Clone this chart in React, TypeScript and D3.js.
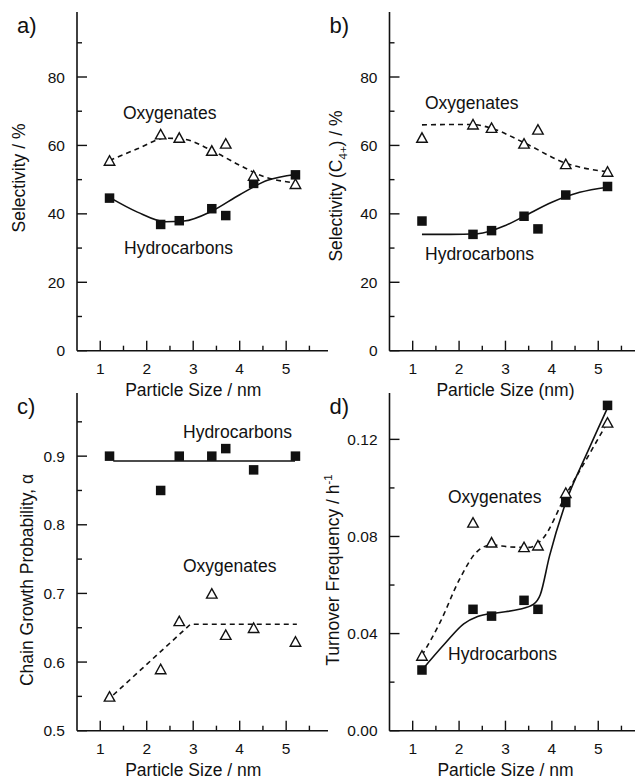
import React from "react";
import * as d3 from "d3";

// Particle sizes (nm) shared by all four panels
const particleSizes = [1.2, 2.3, 2.7, 3.4, 3.7, 4.3, 5.2];

// a) Selectivity / %
const selOxygenates = [55.6, 63.3, 62.3, 58.5, 60.6, 51.2, 48.8];
const selHydrocarbons = [44.6, 36.9, 38.0, 41.5, 39.5, 48.9, 51.4];
const selOxyFitX = [1.2, 1.8, 2.4, 2.8, 3.4, 4.0, 4.5, 5.2];
const selOxyFitY = [55.6, 59.0, 62.1, 61.8, 58.5, 54.2, 51.0, 49.0];
const selHcFitX = [1.2, 1.8, 2.4, 2.8, 3.4, 4.0, 4.6, 5.2];
const selHcFitY = [44.8, 40.5, 37.7, 37.9, 40.8, 45.6, 49.8, 51.5];

// b) Selectivity (C4+) / %
const c4Oxygenates = [62.3, 66.2, 65.2, 60.6, 64.7, 54.6, 52.4];
const c4Hydrocarbons = [37.9, 34.0, 35.1, 39.3, 35.6, 45.5, 48.0];
const c4OxyFitX = [1.2, 1.8, 2.3, 2.7, 3.4, 4.3, 5.2];
const c4OxyFitY = [66.0, 66.1, 66.1, 65.0, 60.8, 54.8, 52.3];
const c4HcFitX = [1.2, 1.8, 2.4, 3.0, 3.4, 4.0, 4.6, 5.2];
const c4HcFitY = [34.0, 34.0, 34.2, 36.6, 39.3, 43.4, 46.3, 47.8];

// c) Chain growth probability, alpha
const alphaHydrocarbons = [0.9, 0.85, 0.9, 0.9, 0.911, 0.88, 0.9];
const alphaOxygenates = [0.55, 0.59, 0.66, 0.7, 0.64, 0.65, 0.63];
const alphaHcFitX = [1.28, 5.19];
const alphaHcFitY = [0.893, 0.893];
const alphaOxyFitX = [1.28, 2.94, 5.23];
const alphaOxyFitY = [0.552, 0.655, 0.655];

// d) Turnover frequency / h^-1
const tofHydrocarbons = [0.025, 0.05, 0.0472, 0.0537, 0.05, 0.094, 0.134];
const tofOxygenates = [0.031, 0.0858, 0.0776, 0.0757, 0.0764, 0.098, 0.127];
const tofHcFitX = [1.2, 1.7, 2.1, 2.4, 2.8, 3.3, 3.6, 3.75, 3.95, 4.3, 4.75, 5.2];
const tofHcFitY = [0.025, 0.036, 0.044, 0.047, 0.0485, 0.05, 0.052, 0.056, 0.072, 0.094, 0.114, 0.133];
const tofOxyFitX = [1.2, 1.6, 2.0, 2.4, 2.7, 3.1, 3.5, 3.8, 4.3, 4.75, 5.2];
const tofOxyFitY = [0.031, 0.045, 0.062, 0.074, 0.0765, 0.0757, 0.0755, 0.079, 0.097, 0.112, 0.127];

// Axis ticks
const xMajorTicks = [1, 2, 3, 4, 5];
const xMinorTicks = [1.5, 2.5, 3.5, 4.5, 5.5];
const selMajorTicks = [0, 20, 40, 60, 80];
const selMinorTicks = [10, 30, 50, 70, 90];
const alphaMajorTicks = [0.5, 0.6, 0.7, 0.8, 0.9];
const alphaMinorTicks = [0.55, 0.65, 0.75, 0.85, 0.95];
const tofMajorTicks = [0, 0.04, 0.08, 0.12];
const tofMinorTicks = [0.02, 0.06, 0.1];

const FONT = "'Liberation Sans', Arial, Helvetica, sans-serif";
const INK = "#111";

type Pt = [number, number];

function zip(xs: number[], ys: number[]): Pt[] {
  return xs.map((x, i) => [x, ys[i]]);
}

interface PanelProps {
  tag: string;
  x0: number;
  x1: number;
  yTop: number;
  yBottom: number;
  yDomain: [number, number];
  yMajor: number[];
  yMinor: number[];
  yFormat: (v: number) => string;
  yTitle: React.ReactNode;
  yTitleX: number;
  yTitleY: number;
  xTitle: string;
  hc: number[];
  oxy: number[];
  hcFit: Pt[];
  oxyFit: Pt[];
  fitCurve: d3.CurveFactory;
  oxyLabel: [number, number];
  hcLabel: [number, number];
}

function Triangle({ cx, cy }: { cx: number; cy: number }) {
  const w = 10.5;
  const h = 9.5;
  const d = `M${cx - w / 2},${cy + h / 2}L${cx + w / 2},${cy + h / 2}L${cx},${cy - h / 2}Z`;
  return <path d={d} fill="#fff" stroke={INK} strokeWidth={1.4} strokeLinejoin="miter" />;
}

function Panel(p: PanelProps) {
  const x = d3.scaleLinear().domain([0.5, 5.9]).range([p.x0, p.x1]);
  const y = d3.scaleLinear().domain(p.yDomain).range([p.yBottom, p.yTop]);
  const line = d3
    .line<Pt>()
    .x((d) => x(d[0]))
    .y((d) => y(d[1]))
    .curve(p.fitCurve);
  const sq = 9.5;
  return (
    <g>
      {/* panel tag */}
      <text x={p.x0 - 60} y={p.yTop + 21} fontSize={22} fontFamily={FONT} fill={INK}>
        {p.tag}
      </text>

      {/* fitted trends */}
      <path d={line(p.oxyFit) || ""} fill="none" stroke={INK} strokeWidth={1.6} strokeDasharray="5,4" />
      <path d={line(p.hcFit) || ""} fill="none" stroke={INK} strokeWidth={1.6} />

      {/* measured points */}
      {particleSizes.map((v, i) => (
        <rect
          key={`h${i}`}
          x={x(v) - sq / 2}
          y={y(p.hc[i]) - sq / 2}
          width={sq}
          height={sq}
          fill={INK}
        />
      ))}
      {particleSizes.map((v, i) => (
        <Triangle key={`o${i}`} cx={x(v)} cy={y(p.oxy[i])} />
      ))}

      {/* axes */}
      <line x1={p.x0} x2={p.x0} y1={p.yTop} y2={p.yBottom} stroke={INK} strokeWidth={1.6} />
      <line x1={p.x0} x2={p.x1} y1={p.yBottom} y2={p.yBottom} stroke={INK} strokeWidth={1.6} />
      {xMajorTicks.map((t) => (
        <g key={`xm${t}`}>
          <line x1={x(t)} x2={x(t)} y1={p.yBottom} y2={p.yBottom - 10} stroke={INK} strokeWidth={1.4} />
          <text
            x={x(t)}
            y={p.yBottom + 23}
            textAnchor="middle"
            fontSize={15.5}
            fontFamily={FONT}
            fill={INK}
          >
            {t}
          </text>
        </g>
      ))}
      {xMinorTicks.map((t) => (
        <line key={`xn${t}`} x1={x(t)} x2={x(t)} y1={p.yBottom} y2={p.yBottom - 5} stroke={INK} strokeWidth={1.4} />
      ))}
      {p.yMajor.map((t) => (
        <g key={`ym${t}`}>
          <line x1={p.x0} x2={p.x0 + 10} y1={y(t)} y2={y(t)} stroke={INK} strokeWidth={1.4} />
          <text
            x={p.x0 - 12}
            y={y(t) + 5.5}
            textAnchor="end"
            fontSize={15.5}
            fontFamily={FONT}
            fill={INK}
          >
            {p.yFormat(t)}
          </text>
        </g>
      ))}
      {p.yMinor.map((t) => (
        <line key={`yn${t}`} x1={p.x0} x2={p.x0 + 5} y1={y(t)} y2={y(t)} stroke={INK} strokeWidth={1.4} />
      ))}

      {/* axis titles */}
      <text
        x={(x(1) + x(5)) / 2}
        y={p.yBottom + 45}
        textAnchor="middle"
        fontSize={17.5}
        fontFamily={FONT}
        fill={INK}
      >
        {p.xTitle}
      </text>
      <text
        transform={`translate(${p.yTitleX},${p.yTitleY}) rotate(-90)`}
        textAnchor="middle"
        fontSize={17.5}
        fontFamily={FONT}
        fill={INK}
      >
        {p.yTitle}
      </text>

      {/* series labels */}
      <text x={p.oxyLabel[0]} y={p.oxyLabel[1]} fontSize={17.5} fontFamily={FONT} fill={INK}>
        Oxygenates
      </text>
      <text x={p.hcLabel[0]} y={p.hcLabel[1]} fontSize={17.5} fontFamily={FONT} fill={INK}>
        Hydrocarbons
      </text>
    </g>
  );
}

export default function App() {
  const fmtInt = (v: number) => d3.format("d")(v);
  const fmt1 = (v: number) => d3.format(".1f")(v);
  const fmt2 = (v: number) => d3.format(".2f")(v);
  return (
    <svg
      width={635}
      height={780}
      viewBox="0 0 635 780"
      style={{ position: "absolute", left: 0, top: 0, background: "#fff" }}
    >
      <rect width={635} height={780} fill="#fff" />
      <Panel
        tag="a)"
        x0={77}
        x1={328}
        yTop={12}
        yBottom={350.7}
        yDomain={[0, 99]}
        yMajor={selMajorTicks}
        yMinor={selMinorTicks}
        yFormat={fmtInt}
        yTitle="Selectivity / %"
        yTitleX={25}
        yTitleY={178}
        xTitle="Particle Size / nm"
        hc={selHydrocarbons}
        oxy={selOxygenates}
        hcFit={zip(selHcFitX, selHcFitY)}
        oxyFit={zip(selOxyFitX, selOxyFitY)}
        fitCurve={d3.curveMonotoneX}
        oxyLabel={[123, 119]}
        hcLabel={[124, 254]}
      />
      <Panel
        tag="b)"
        x0={389.5}
        x1={640}
        yTop={12}
        yBottom={350.7}
        yDomain={[0, 99]}
        yMajor={selMajorTicks}
        yMinor={selMinorTicks}
        yFormat={fmtInt}
        yTitle={
          <>
            Selectivity (C
            <tspan fontSize={11.5} dy={5}>
              4+
            </tspan>
            <tspan dy={-5}>) / %</tspan>
          </>
        }
        yTitleX={342}
        yTitleY={186}
        xTitle="Particle Size (nm)"
        hc={c4Hydrocarbons}
        oxy={c4Oxygenates}
        hcFit={zip(c4HcFitX, c4HcFitY)}
        oxyFit={zip(c4OxyFitX, c4OxyFitY)}
        fitCurve={d3.curveMonotoneX}
        oxyLabel={[425, 108.5]}
        hcLabel={[425, 260]}
      />
      <Panel
        tag="c)"
        x0={77}
        x1={328}
        yTop={393}
        yBottom={730.7}
        yDomain={[0.5, 0.992]}
        yMajor={alphaMajorTicks}
        yMinor={alphaMinorTicks}
        yFormat={fmt1}
        yTitle="Chain Growth Probability, α"
        yTitleX={33}
        yTitleY={580}
        xTitle="Particle Size / nm"
        hc={alphaHydrocarbons}
        oxy={alphaOxygenates}
        hcFit={zip(alphaHcFitX, alphaHcFitY)}
        oxyFit={zip(alphaOxyFitX, alphaOxyFitY)}
        fitCurve={d3.curveLinear}
        oxyLabel={[183, 572]}
        hcLabel={[183, 438]}
      />
      <Panel
        tag="d)"
        x0={389.5}
        x1={640}
        yTop={393}
        yBottom={730.7}
        yDomain={[0, 0.1391]}
        yMajor={tofMajorTicks}
        yMinor={tofMinorTicks}
        yFormat={fmt2}
        yTitle={
          <>
            Turnover Frequency / h
            <tspan fontSize={11.5} dy={-7}>
              -1
            </tspan>
          </>
        }
        yTitleX={339}
        yTitleY={570}
        xTitle="Particle Size / nm"
        hc={tofHydrocarbons}
        oxy={tofOxygenates}
        hcFit={zip(tofHcFitX, tofHcFitY)}
        oxyFit={zip(tofOxyFitX, tofOxyFitY)}
        fitCurve={d3.curveMonotoneX}
        oxyLabel={[448, 503]}
        hcLabel={[448, 660]}
      />
    </svg>
  );
}
